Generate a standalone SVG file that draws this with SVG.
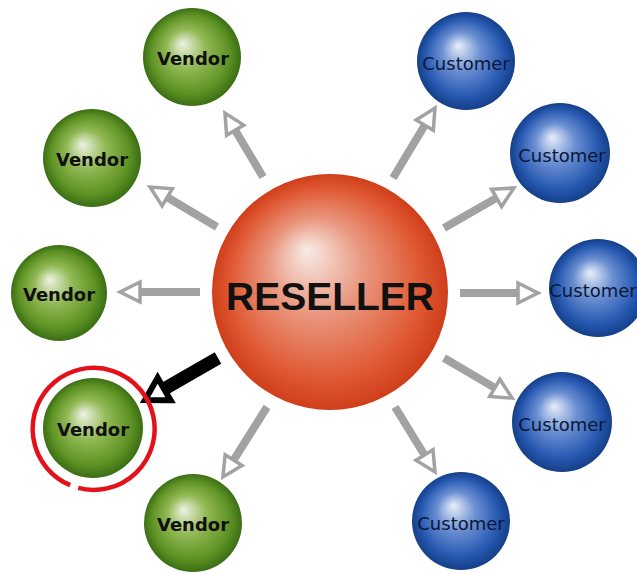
<svg xmlns="http://www.w3.org/2000/svg" width="637" height="574" viewBox="0 0 637 574">
  <defs>
    <style>
      .vtext { font-family: "DejaVu Sans", "Liberation Sans", sans-serif; font-weight: bold; font-size: 18px; fill: #111; text-anchor: middle; }
      .ctext { font-family: "DejaVu Sans", "Liberation Sans", sans-serif; font-size: 18px; fill: #0a1838; text-anchor: middle; }
      .rtext { font-family: "Liberation Sans", Arial, sans-serif; font-weight: bold; font-size: 39px; fill: #111; text-anchor: middle; }
      .garrow { stroke: #a2a2a2; stroke-width: 8; fill: none; marker-end: url(#ghead); }
      .barrow { stroke: #000; stroke-width: 13; fill: none; marker-end: url(#bhead); }
    </style>
    <radialGradient id="gGreen" cx="0.5" cy="0.5" r="0.5" fx="0.4" fy="0.36">
      <stop offset="0" stop-color="#eef3e4"/>
      <stop offset="0.4" stop-color="#92b955"/>
      <stop offset="0.8" stop-color="#5e9224"/>
      <stop offset="1" stop-color="#3b6e14"/>
    </radialGradient>
    <radialGradient id="gBlue" cx="0.5" cy="0.5" r="0.5" fx="0.42" fy="0.34">
      <stop offset="0" stop-color="#e8eefa"/>
      <stop offset="0.4" stop-color="#6b8fd2"/>
      <stop offset="0.8" stop-color="#2658b0"/>
      <stop offset="1" stop-color="#153f88"/>
    </radialGradient>
    <radialGradient id="gRed" cx="0.5" cy="0.5" r="0.5" fx="0.4" fy="0.32">
      <stop offset="0" stop-color="#f8ece6"/>
      <stop offset="0.4" stop-color="#e99880"/>
      <stop offset="0.8" stop-color="#e05a34"/>
      <stop offset="1" stop-color="#cf3e1a"/>
    </radialGradient>
    <marker id="ghead" markerUnits="userSpaceOnUse" viewBox="-5 -15 30 30" markerWidth="30" markerHeight="30" refX="0" refY="0" orient="auto" overflow="visible">
      <path d="M0,-10 L20,0 L0,10 Z" fill="#fff" stroke="#a2a2a2" stroke-width="3.5" stroke-linejoin="miter"/>
    </marker>
    <marker id="bhead" markerUnits="userSpaceOnUse" viewBox="-5 -20 35 40" markerWidth="35" markerHeight="40" refX="0" refY="0" orient="auto" overflow="visible">
      <path d="M0,-13 L22,0 L0,13 Z" fill="#fff" stroke="#000" stroke-width="6" stroke-linejoin="miter"/>
    </marker>
  </defs>
  <rect width="637" height="574" fill="#fff"/>

  <g id="connectors">
    <line class="garrow" x1="263" y1="177" x2="235.2" y2="130.2"/>
    <line class="garrow" x1="217" y1="227" x2="167.2" y2="197.3"/>
    <line class="garrow" x1="200" y1="292" x2="140" y2="292"/>
    <line class="garrow" x1="267" y1="407" x2="233.6" y2="460.1"/>
    <line class="garrow" x1="393" y1="178" x2="424.7" y2="125.2"/>
    <line class="garrow" x1="444" y1="228" x2="496.6" y2="197.9"/>
    <line class="garrow" x1="460" y1="293" x2="518" y2="293"/>
    <line class="garrow" x1="444" y1="358" x2="494.8" y2="387.9"/>
    <line class="garrow" x1="395" y1="407" x2="424.5" y2="455"/>
    <line class="barrow" x1="218" y1="358" x2="164.1" y2="389"/>
  </g>

  <g id="reseller">
    <circle cx="330" cy="292" r="118" fill="url(#gRed)"/>
    <text class="rtext" x="330" y="310">RESELLER</text>
  </g>

  <g id="vendor1">
    <circle cx="192" cy="57" r="49" fill="url(#gGreen)"/>
    <text class="vtext" x="193" y="65">Vendor</text>
  </g>
  <g id="vendor2">
    <circle cx="92" cy="158" r="49" fill="url(#gGreen)"/>
    <text class="vtext" x="92" y="166">Vendor</text>
  </g>
  <g id="vendor3">
    <circle cx="59" cy="293" r="48" fill="url(#gGreen)"/>
    <text class="vtext" x="59" y="301">Vendor</text>
  </g>
  <g id="vendor4">
    <circle cx="93" cy="428" r="50" fill="url(#gGreen)"/>
    <text class="vtext" x="93" y="436">Vendor</text>
    <path d="M70.2,485.2 A61,61 0 1 1 78.2,487.9" fill="none" stroke="#e3121a" stroke-width="4.5"/>
  </g>
  <g id="vendor5">
    <circle cx="193" cy="523" r="49" fill="url(#gGreen)"/>
    <text class="vtext" x="193" y="531">Vendor</text>
  </g>

  <g id="customer1">
    <circle cx="466" cy="61" r="49" fill="url(#gBlue)"/>
    <text class="ctext" x="466" y="70">Customer</text>
  </g>
  <g id="customer2">
    <circle cx="560" cy="153" r="50" fill="url(#gBlue)"/>
    <text class="ctext" x="562" y="162">Customer</text>
  </g>
  <g id="customer3">
    <circle cx="598" cy="288" r="49" fill="url(#gBlue)"/>
    <text class="ctext" x="593" y="297">Customer</text>
  </g>
  <g id="customer4">
    <circle cx="562" cy="422" r="50" fill="url(#gBlue)"/>
    <text class="ctext" x="562" y="431">Customer</text>
  </g>
  <g id="customer5">
    <circle cx="461" cy="521" r="49" fill="url(#gBlue)"/>
    <text class="ctext" x="461" y="530">Customer</text>
  </g>
</svg>
